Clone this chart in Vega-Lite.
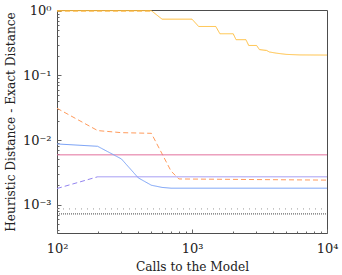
{
  "$schema": "https://vega.github.io/schema/vega-lite/v6.json",
  "width": 270,
  "height": 223,
  "autosize": {"type": "none"},
  "padding": {"left": 57, "top": 10, "right": 15, "bottom": 42},
  "config": {
    "view": {"stroke": "#4d4d4d", "strokeWidth": 1},
    "font": "DejaVu Serif"
  },
  "data": {
    "values": [
      {"s": "yellow", "x": 100, "y": 1.0},
      {"s": "yellow", "x": 500, "y": 1.0},
      {"s": "yellow", "x": 600, "y": 0.74},
      {"s": "yellow", "x": 1000, "y": 0.74},
      {"s": "yellow", "x": 1120, "y": 0.57},
      {"s": "yellow", "x": 1500, "y": 0.57},
      {"s": "yellow", "x": 1610, "y": 0.44},
      {"s": "yellow", "x": 2020, "y": 0.44},
      {"s": "yellow", "x": 2120, "y": 0.356},
      {"s": "yellow", "x": 2510, "y": 0.356},
      {"s": "yellow", "x": 2630, "y": 0.29},
      {"s": "yellow", "x": 3010, "y": 0.29},
      {"s": "yellow", "x": 3160, "y": 0.25},
      {"s": "yellow", "x": 3570, "y": 0.243},
      {"s": "yellow", "x": 3740, "y": 0.23},
      {"s": "yellow", "x": 4240, "y": 0.22},
      {"s": "yellow", "x": 5000, "y": 0.211},
      {"s": "yellow", "x": 6300, "y": 0.207},
      {"s": "yellow", "x": 10000, "y": 0.206},
      {"s": "yellowDash", "x": 100, "y": 0.985},
      {"s": "yellowDash", "x": 500, "y": 0.985},
      {"s": "orangeDash", "x": 100, "y": 0.031},
      {"s": "orangeDash", "x": 200, "y": 0.014},
      {"s": "orangeDash", "x": 300, "y": 0.013},
      {"s": "orangeDash", "x": 500, "y": 0.0127},
      {"s": "orangeDash", "x": 700, "y": 0.0033},
      {"s": "orangeDash", "x": 800, "y": 0.0025},
      {"s": "orangeDash", "x": 10000, "y": 0.0024},
      {"s": "pink", "x": 100, "y": 0.0059},
      {"s": "pink", "x": 10000, "y": 0.0059},
      {"s": "blue", "x": 100, "y": 0.0087},
      {"s": "blue", "x": 200, "y": 0.008},
      {"s": "blue", "x": 300, "y": 0.0051},
      {"s": "blue", "x": 400, "y": 0.0026},
      {"s": "blue", "x": 500, "y": 0.002},
      {"s": "blue", "x": 600, "y": 0.00185},
      {"s": "blue", "x": 700, "y": 0.0018},
      {"s": "blue", "x": 10000, "y": 0.0018},
      {"s": "purpleDash", "x": 100, "y": 0.00178},
      {"s": "purpleDash", "x": 200, "y": 0.0027},
      {"s": "purple", "x": 200, "y": 0.0027},
      {"s": "purple", "x": 10000, "y": 0.0027},
      {"s": "grayDot", "x": 100, "y": 0.00086},
      {"s": "grayDot", "x": 10000, "y": 0.00086},
      {"s": "blackDot", "x": 100, "y": 0.00072},
      {"s": "blackDot", "x": 10000, "y": 0.00072}
    ]
  },
  "mark": {"type": "line", "strokeWidth": 1, "clip": true},
  "encoding": {
    "x": {
      "field": "x",
      "type": "quantitative",
      "scale": {"type": "log", "domain": [100, 10000], "nice": false},
      "axis": {
        "title": "Calls to the Model",
        "titleFont": "DejaVu Serif",
        "titleFontSize": 12.2,
        "titleFontWeight": "normal",
        "titleColor": "#222",
        "titlePadding": 3,
        "values": [100, 200, 300, 400, 500, 600, 700, 800, 900, 1000, 2000, 3000, 4000, 5000, 6000, 7000, 8000, 9000, 10000],
        "labelExpr": "datum.value == 100 ? '10²' : datum.value == 1000 ? '10³' : datum.value == 10000 ? '10⁴' : ''",
        "labelFont": "DejaVu Serif",
        "labelFontSize": 13,
        "labelColor": "#222",
        "labelPadding": 13,
        "labelFlush": false,
        "labelOverlap": false,
        "domain": false,
        "grid": false,
        "tickColor": "#666",
        "tickSize": {"condition": {"test": "datum.value == 100 || datum.value == 1000 || datum.value == 10000", "value": -4}, "value": -2}
      }
    },
    "y": {
      "field": "y",
      "type": "quantitative",
      "scale": {"type": "log", "domain": [0.000365, 1.025], "nice": false},
      "axis": {
        "title": "Heuristic Distance - Exact Distance",
        "titleFont": "DejaVu Serif",
        "titleFontSize": 12.2,
        "titleFontWeight": "normal",
        "titleColor": "#222",
        "titlePadding": 5,
        "values": [0.0004, 0.0005, 0.0006, 0.0007, 0.0008, 0.0009, 0.001, 0.002, 0.003, 0.004, 0.005, 0.006, 0.007, 0.008, 0.009, 0.01, 0.02, 0.03, 0.04, 0.05, 0.06, 0.07, 0.08, 0.09, 0.1, 0.2, 0.3, 0.4, 0.5, 0.6, 0.7, 0.8, 0.9, 1],
        "labelExpr": "datum.value == 1 ? '10⁰' : abs(datum.value - 0.1) < 1e-9 ? '10⁻¹' : abs(datum.value - 0.01) < 1e-10 ? '10⁻²' : abs(datum.value - 0.001) < 1e-11 ? '10⁻³' : ''",
        "labelFont": "DejaVu Serif",
        "labelFontSize": 13,
        "labelColor": "#222",
        "labelPadding": 10,
        "labelFlush": false,
        "labelOverlap": false,
        "domain": false,
        "grid": false,
        "tickColor": "#666",
        "tickSize": {"condition": {"test": "datum.value == 1 || abs(datum.value - 0.1) < 1e-9 || abs(datum.value - 0.01) < 1e-10 || abs(datum.value - 0.001) < 1e-11", "value": -4}, "value": -2}
      }
    },
    "detail": {"field": "s"},
    "color": {
      "field": "s",
      "type": "nominal",
      "legend": null,
      "scale": {
        "domain": ["yellow", "yellowDash", "orangeDash", "pink", "blue", "purpleDash", "purple", "grayDot", "blackDot"],
        "range": ["#FFBE3C", "#FFB43A", "#FF9B5C", "#E2709C", "#7AA2F7", "#9384F0", "#9A8EF2", "#999999", "#444444"]
      }
    },
    "strokeDash": {
      "field": "s",
      "type": "nominal",
      "legend": null,
      "scale": {
        "domain": ["yellow", "yellowDash", "orangeDash", "pink", "blue", "purpleDash", "purple", "grayDot", "blackDot"],
        "range": [[1, 0], [5, 3], [5, 3], [1, 0], [1, 0], [5, 3], [1, 0], [1, 5], [1, 1]]
      }
    },
    "order": {"field": "x", "type": "quantitative"}
  }
}
